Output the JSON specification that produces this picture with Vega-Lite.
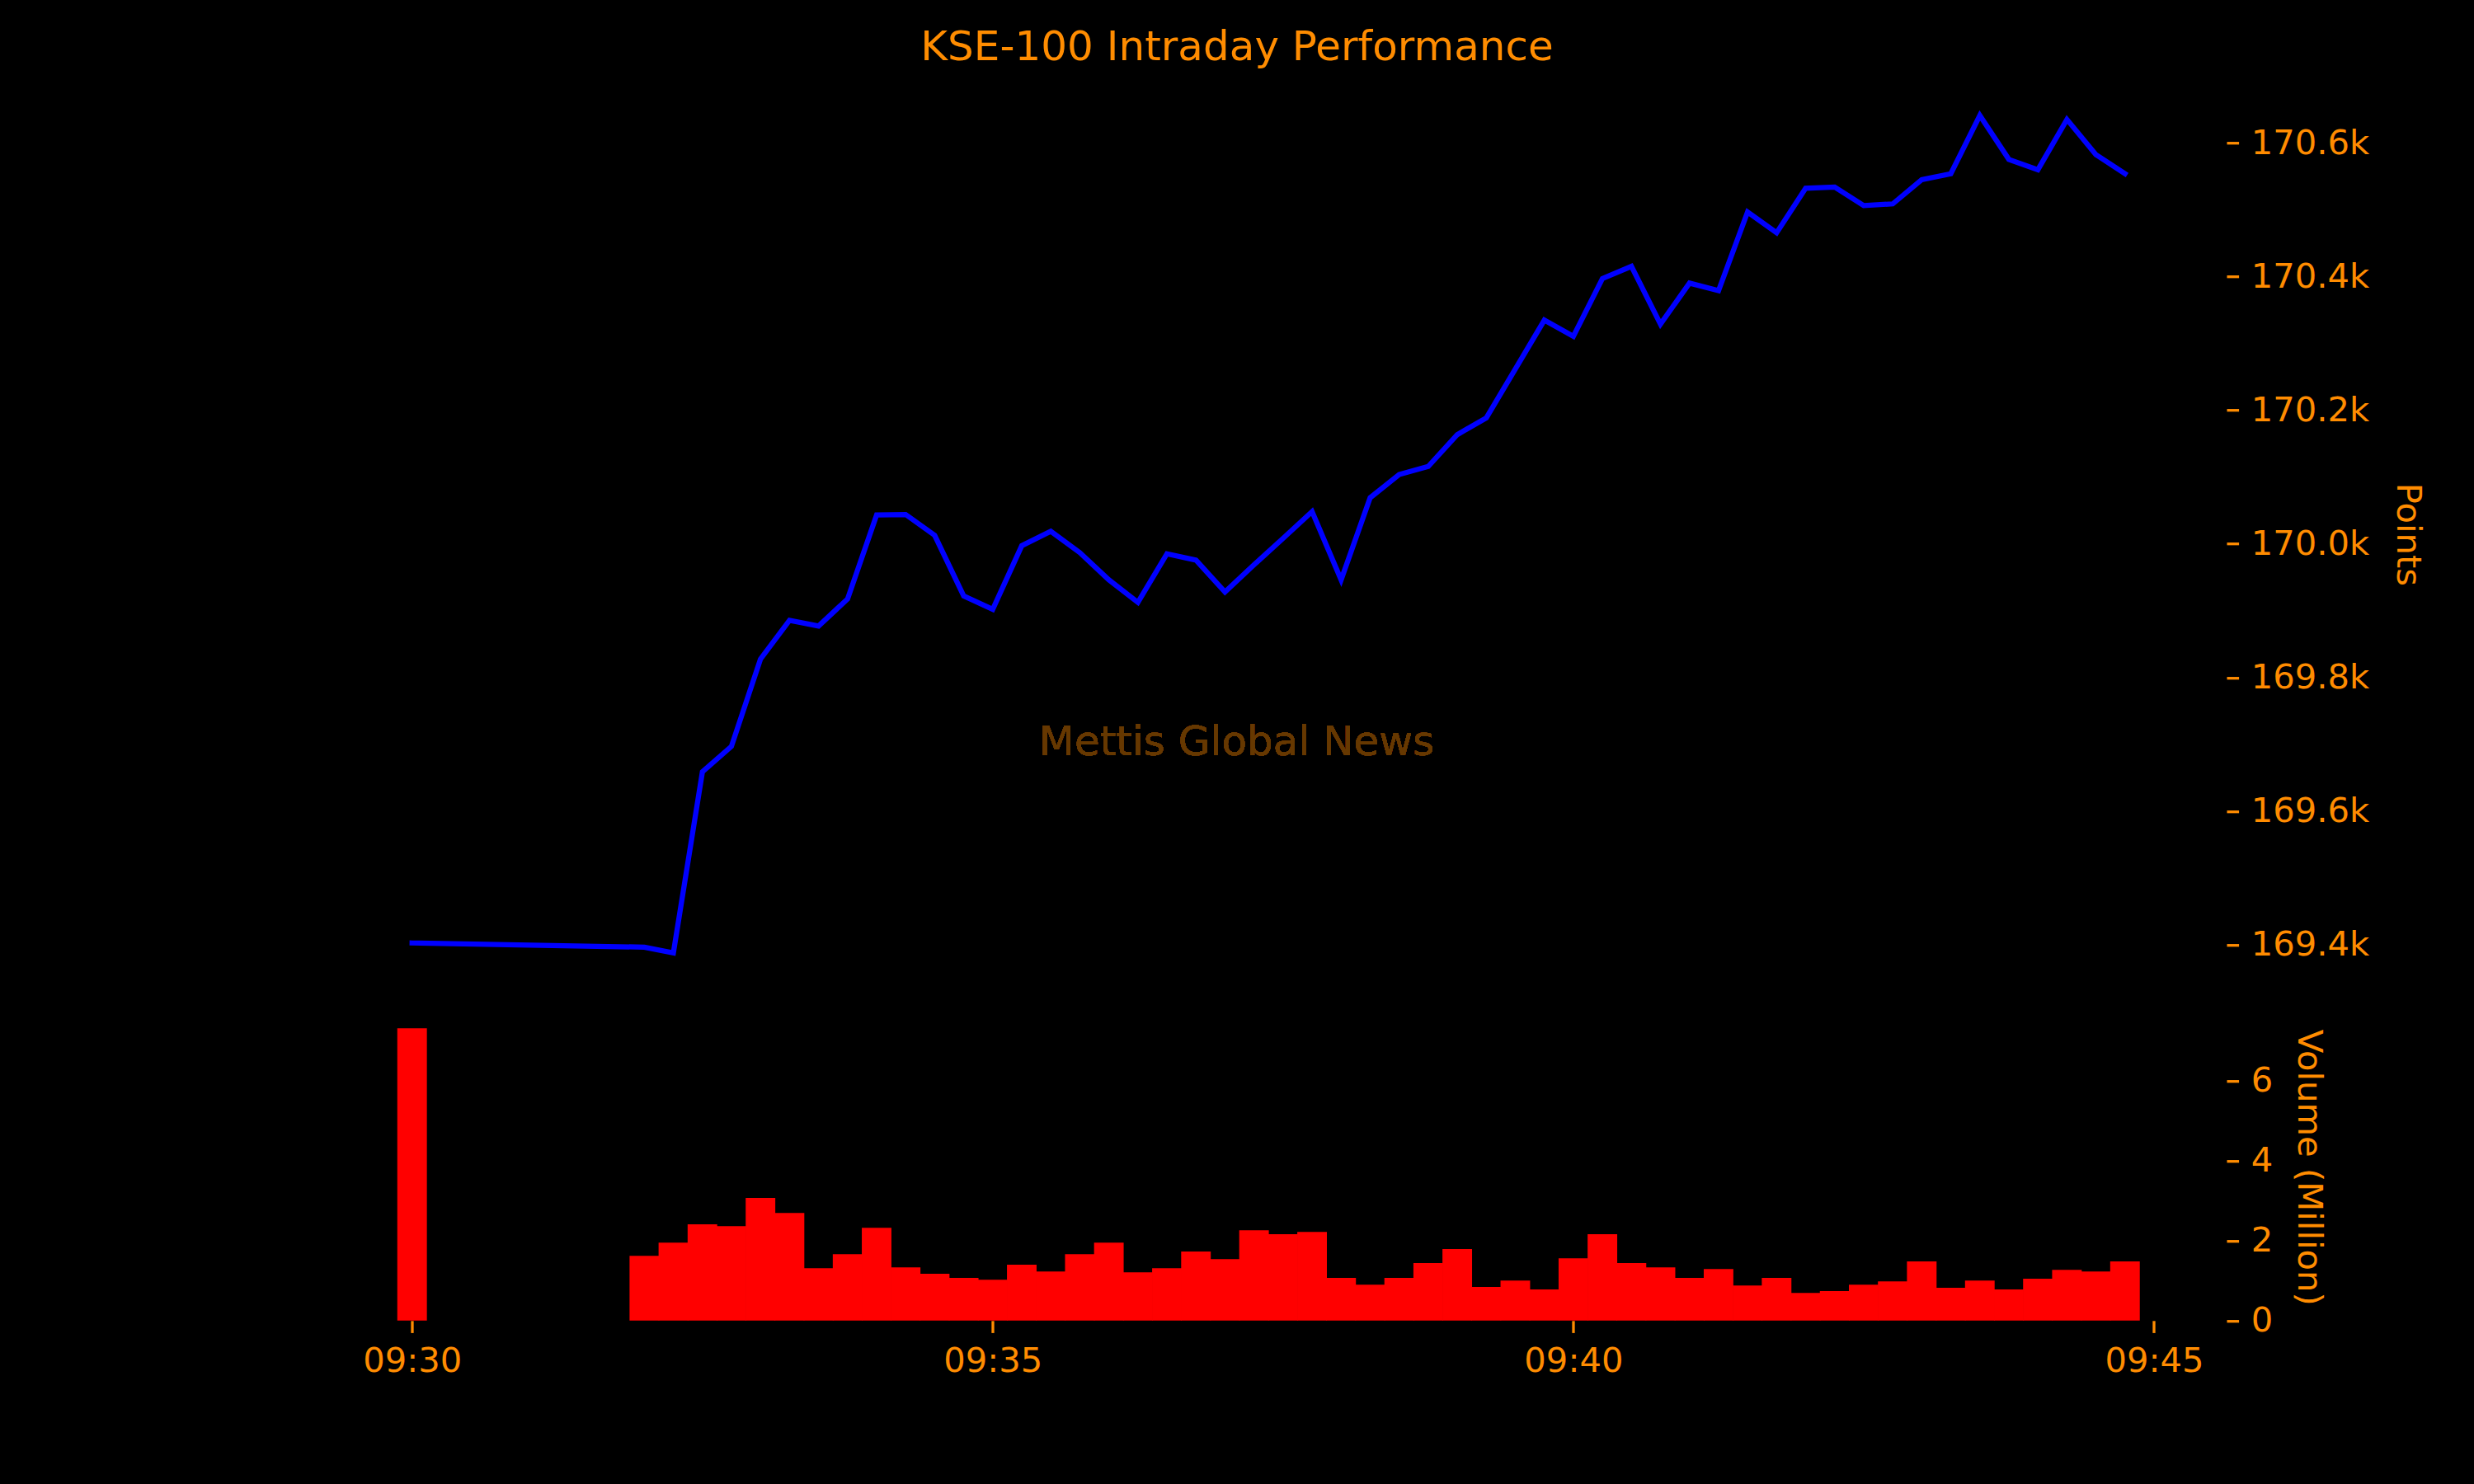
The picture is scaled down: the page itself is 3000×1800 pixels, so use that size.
{
  "$schema": "https://vega.github.io/schema/vega-lite/v6.json",
  "width": 2323.5,
  "height": 1512.6,
  "autosize": {"type": "none"},
  "padding": {"left": 376.5, "top": 89.2, "right": 300, "bottom": 198.2},
  "background": "black",
  "title": {
    "text": "KSE-100 Intraday Performance",
    "font": "DejaVu Sans",
    "fontSize": 50,
    "fontWeight": "normal",
    "color": "#FF8C00",
    "anchor": "middle",
    "frame": "group",
    "baseline": "alphabetic",
    "offset": 15.2,
    "dx": -38.25,
    "dy": 49
  },
  "config": {
    "view": {"stroke": null},
    "axis": {
      "domain": false,
      "grid": false,
      "tickColor": "#FF8C00",
      "tickSize": 14.6,
      "tickWidth": 3.3,
      "labelColor": "#FF8C00",
      "labelFont": "DejaVu Sans",
      "labelFontSize": 41.7,
      "labelPadding": 14.6,
      "labelOverlap": false,
      "labelFlush": false,
      "titleColor": "#FF8C00",
      "titleFont": "DejaVu Sans",
      "titleFontSize": 41.7,
      "titleFontWeight": "normal"
    }
  },
  "data": {
    "values": [
      {"t": "2024-01-01T09:30:00", "points": 169402.6, "volume": 7.31},
      {"t": "2024-01-01T09:32:00", "points": 169396.4, "volume": 1.62},
      {"t": "2024-01-01T09:32:15", "points": 169387.8, "volume": 1.95},
      {"t": "2024-01-01T09:32:30", "points": 169658.8, "volume": 2.41},
      {"t": "2024-01-01T09:32:45", "points": 169696.9, "volume": 2.36},
      {"t": "2024-01-01T09:33:00", "points": 169827.6, "volume": 3.07},
      {"t": "2024-01-01T09:33:15", "points": 169885.6, "volume": 2.69},
      {"t": "2024-01-01T09:33:30", "points": 169877.0, "volume": 1.31},
      {"t": "2024-01-01T09:33:45", "points": 169917.6, "volume": 1.66},
      {"t": "2024-01-01T09:34:00", "points": 170043.2, "volume": 2.32},
      {"t": "2024-01-01T09:34:15", "points": 170044.0, "volume": 1.33},
      {"t": "2024-01-01T09:34:30", "points": 170012.8, "volume": 1.17},
      {"t": "2024-01-01T09:34:45", "points": 169922.0, "volume": 1.07},
      {"t": "2024-01-01T09:35:00", "points": 169902.0, "volume": 1.02},
      {"t": "2024-01-01T09:35:15", "points": 169997.3, "volume": 1.40},
      {"t": "2024-01-01T09:35:30", "points": 170018.9, "volume": 1.23},
      {"t": "2024-01-01T09:35:45", "points": 169986.9, "volume": 1.66},
      {"t": "2024-01-01T09:36:00", "points": 169946.2, "volume": 1.95},
      {"t": "2024-01-01T09:36:15", "points": 169912.4, "volume": 1.21},
      {"t": "2024-01-01T09:36:30", "points": 169985.2, "volume": 1.31},
      {"t": "2024-01-01T09:36:45", "points": 169975.7, "volume": 1.73},
      {"t": "2024-01-01T09:37:00", "points": 169928.0, "volume": 1.54},
      {"t": "2024-01-01T09:37:15", "points": 169968.8, "volume": 2.26},
      {"t": "2024-01-01T09:37:30", "points": 170008.3, "volume": 2.16},
      {"t": "2024-01-01T09:37:45", "points": 170048.4, "volume": 2.22},
      {"t": "2024-01-01T09:38:00", "points": 169946.2, "volume": 1.07},
      {"t": "2024-01-01T09:38:15", "points": 170069.1, "volume": 0.90},
      {"t": "2024-01-01T09:38:30", "points": 170103.8, "volume": 1.07},
      {"t": "2024-01-01T09:38:45", "points": 170115.9, "volume": 1.44},
      {"t": "2024-01-01T09:39:00", "points": 170163.5, "volume": 1.79},
      {"t": "2024-01-01T09:39:15", "points": 170188.6, "volume": 0.84},
      {"t": "2024-01-01T09:39:30", "points": 170261.7, "volume": 1.00},
      {"t": "2024-01-01T09:39:45", "points": 170334.9, "volume": 0.78},
      {"t": "2024-01-01T09:40:00", "points": 170310.6, "volume": 1.56},
      {"t": "2024-01-01T09:40:15", "points": 170397.2, "volume": 2.16},
      {"t": "2024-01-01T09:40:30", "points": 170415.4, "volume": 1.44},
      {"t": "2024-01-01T09:40:45", "points": 170328.9, "volume": 1.33},
      {"t": "2024-01-01T09:41:00", "points": 170390.3, "volume": 1.07},
      {"t": "2024-01-01T09:41:15", "points": 170379.1, "volume": 1.29},
      {"t": "2024-01-01T09:41:30", "points": 170496.8, "volume": 0.88},
      {"t": "2024-01-01T09:41:45", "points": 170465.6, "volume": 1.07},
      {"t": "2024-01-01T09:42:00", "points": 170532.3, "volume": 0.69},
      {"t": "2024-01-01T09:42:15", "points": 170534.0, "volume": 0.74},
      {"t": "2024-01-01T09:42:30", "points": 170506.3, "volume": 0.90},
      {"t": "2024-01-01T09:42:45", "points": 170508.9, "volume": 0.98},
      {"t": "2024-01-01T09:43:00", "points": 170545.2, "volume": 1.48},
      {"t": "2024-01-01T09:43:15", "points": 170554.0, "volume": 0.82},
      {"t": "2024-01-01T09:43:30", "points": 170641.3, "volume": 1.00},
      {"t": "2024-01-01T09:43:45", "points": 170575.5, "volume": 0.78},
      {"t": "2024-01-01T09:44:00", "points": 170560.0, "volume": 1.05},
      {"t": "2024-01-01T09:44:15", "points": 170635.3, "volume": 1.27},
      {"t": "2024-01-01T09:44:30", "points": 170582.5, "volume": 1.23},
      {"t": "2024-01-01T09:44:45", "points": 170554.0, "volume": 1.48}
    ]
  },
  "encoding": {
    "x": {
      "field": "t",
      "type": "temporal",
      "title": null,
      "scale": {
        "domain": [
          {"year": 2024, "month": 1, "date": 1, "hours": 9, "minutes": 29, "seconds": 7, "milliseconds": 500},
          {"year": 2024, "month": 1, "date": 1, "hours": 9, "minutes": 45, "seconds": 37, "milliseconds": 500}
        ],
        "nice": false,
        "padding": 0
      },
      "axis": {
        "orient": "bottom",
        "format": "%H:%M",
        "values": [
          {"year": 2024, "month": 1, "date": 1, "hours": 9, "minutes": 30},
          {"year": 2024, "month": 1, "date": 1, "hours": 9, "minutes": 35},
          {"year": 2024, "month": 1, "date": 1, "hours": 9, "minutes": 40},
          {"year": 2024, "month": 1, "date": 1, "hours": 9, "minutes": 45}
        ]
      }
    }
  },
  "layer": [
    {
      "layer": [
        {
          "mark": {"type": "line", "color": "#0000FF", "strokeWidth": 6.25, "strokeJoin": "miter", "strokeCap": "square"},
          "encoding": {
            "y": {
              "field": "points",
              "type": "quantitative",
              "scale": {"domain": [169325.1, 170704], "range": [1117.4, 0], "zero": false, "nice": false},
              "axis": {
                "orient": "right",
                "title": "Points",
                "titleBaseline": "alphabetic",
                "titlePadding": 34,
                "values": [169400, 169600, 169800, 170000, 170200, 170400, 170600],
                "labelExpr": "format(datum.value / 1000, '.1f') + 'k'"
              }
            }
          }
        },
        {
          "mark": {"type": "text", "font": "DejaVu Sans", "fontSize": 50, "color": "#663800", "align": "center", "baseline": "middle"},
          "encoding": {
            "x": {"datum": {"year": 2024, "month": 1, "date": 1, "hours": 9, "minutes": 37, "seconds": 6}, "type": "temporal"},
            "y": {"datum": 169702, "type": "quantitative"},
            "text": {"value": "Mettis Global News"}
          }
        }
      ]
    },
    {
      "mark": {"type": "bar", "color": "#FF0000", "width": 35.9},
      "encoding": {
        "y": {
          "field": "volume",
          "type": "quantitative",
          "scale": {"domain": [0, 7.676], "range": [1512.6, 1140.4], "nice": false},
          "axis": {
            "orient": "right",
            "title": "Volume (Million)",
            "titleBaseline": "alphabetic",
            "titlePadding": 31,
            "values": [0, 2, 4, 6]
          }
        }
      }
    }
  ],
  "resolve": {"scale": {"y": "independent"}, "axis": {"y": "independent"}}
}
